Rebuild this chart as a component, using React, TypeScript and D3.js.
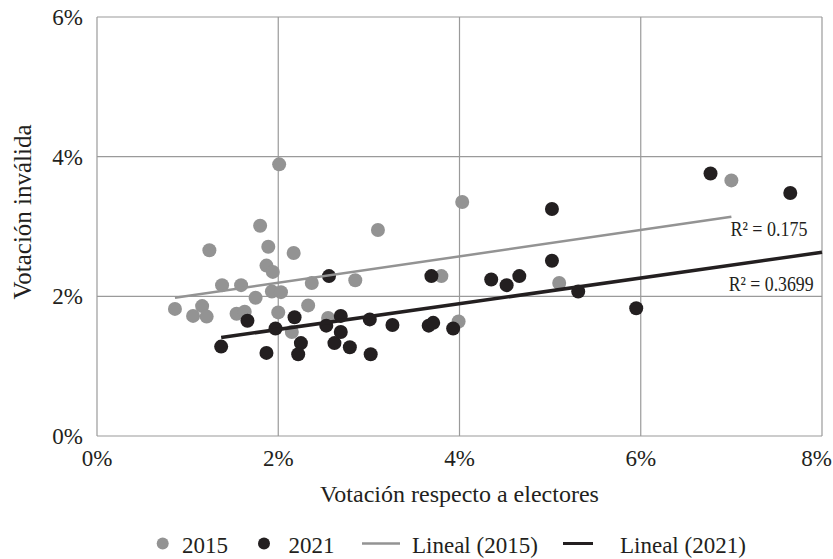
import React, { useEffect, useRef } from 'react';
import * as d3 from 'd3';

// votación respecto a electores (%) / votación inválida (%)
const x2015 = [0.86, 1.06, 1.16, 1.21, 1.24, 1.38, 1.59, 1.54, 1.63, 1.75, 1.80, 1.89, 1.87, 1.94, 1.93, 2.03, 2.00, 2.01, 2.15, 2.17, 2.33, 2.37, 2.55, 2.85, 3.10, 4.03, 3.80, 5.10, 3.99, 7.00];
const y2015 = [1.82, 1.72, 1.86, 1.71, 2.66, 2.16, 2.16, 1.75, 1.78, 1.98, 3.01, 2.71, 2.44, 2.35, 2.07, 2.06, 1.77, 3.89, 1.49, 2.62, 1.87, 2.19, 1.69, 2.23, 2.95, 3.35, 2.29, 2.19, 1.64, 3.66];

const x2021 = [1.37, 1.66, 1.87, 1.97, 2.18, 2.25, 2.22, 2.53, 2.62, 2.69, 2.69, 2.79, 3.01, 3.02, 3.26, 2.56, 3.66, 3.71, 3.93, 3.69, 4.35, 4.52, 4.66, 5.02, 5.02, 5.31, 5.95, 6.77, 7.65];
const y2021 = [1.28, 1.65, 1.19, 1.54, 1.70, 1.33, 1.17, 1.58, 1.33, 1.72, 1.49, 1.27, 1.67, 1.17, 1.59, 2.29, 1.58, 1.62, 1.54, 2.29, 2.24, 2.16, 2.29, 2.51, 3.25, 2.07, 1.83, 3.76, 3.48];

// linear trendlines: [slope, intercept, xStart, xEnd]
const trend2015 = [0.189, 1.816, 0.86, 7.0];
const trend2021 = [0.184, 1.158, 1.37, 8.0];
const r2Labels = ['R\u00b2 = 0.175', 'R\u00b2 = 0.3699'];
const r2Anchor = [[6.99, 2.86], [6.97, 2.08]];

const xTicks = [0, 2, 4, 6, 8];
const yTicks = [0, 2, 4, 6];
const legendLabels = ['2015', '2021', 'Lineal (2015)', 'Lineal (2021)'];

const GREY = '#939393';
const BLACK = '#231f20';
const FONT = 'Liberation Serif';

export default function App() {
  const ref = useRef<SVGSVGElement>(null);

  useEffect(() => {
    const svg = d3.select(ref.current);
    svg.selectAll('*').remove();

    const margin = { top: 17, left: 97, right: 11, bottom: 123 };
    const w = 833 - margin.left - margin.right;
    const h = 559 - margin.top - margin.bottom;

    const xScale = d3.scaleLinear().domain([0, 8]).range([0, w]);
    const yScale = d3.scaleLinear().domain([0, 6]).range([h, 0]);

    const g = svg.append('g').attr('transform', `translate(${margin.left},${margin.top})`);

    // grid
    g.selectAll('.vgrid')
      .data(xTicks)
      .enter()
      .append('line')
      .attr('x1', d => xScale(d))
      .attr('x2', d => xScale(d))
      .attr('y1', 0)
      .attr('y2', h)
      .attr('stroke', '#9a9a9a')
      .attr('stroke-width', 1.2);

    g.selectAll('.hgrid')
      .data(yTicks)
      .enter()
      .append('line')
      .attr('x1', 0)
      .attr('x2', w)
      .attr('y1', d => yScale(d))
      .attr('y2', d => yScale(d))
      .attr('stroke', '#9a9a9a')
      .attr('stroke-width', 1.2);

    // tick labels
    const ticks = g.append('g').attr('font-family', FONT).attr('font-size', 23).attr('fill', BLACK);
    ticks.selectAll('.ylab')
      .data(yTicks)
      .enter()
      .append('text')
      .attr('x', -14)
      .attr('y', d => yScale(d) + 8)
      .attr('text-anchor', 'end')
      .text(d => d + '%');

    ticks.selectAll('.xlab')
      .data(xTicks)
      .enter()
      .append('text')
      .attr('x', d => (d === 8 ? w + margin.right - 1 : xScale(d)))
      .attr('y', h + 30)
      .attr('text-anchor', d => (d === 8 ? 'end' : 'middle'))
      .text(d => d + '%');

    // axis titles
    const titles = svg.append('g').attr('font-family', FONT).attr('fill', BLACK);
    titles.append('text')
      .attr('x', margin.left + w / 2)
      .attr('y', 502)
      .attr('text-anchor', 'middle')
      .attr('font-size', 24)
      .text('Votación respecto a electores');

    titles.append('text')
      .attr('transform', `translate(31,212) rotate(-90)`)
      .attr('text-anchor', 'middle')
      .attr('font-size', 25)
      .text('Votación inválida');

    // points
    g.selectAll('.p15')
      .data(x2015)
      .enter()
      .append('circle')
      .attr('cx', d => xScale(d))
      .attr('cy', (d, i) => yScale(y2015[i]))
      .attr('r', 7)
      .attr('fill', GREY);

    g.selectAll('.p21')
      .data(x2021)
      .enter()
      .append('circle')
      .attr('cx', d => xScale(d))
      .attr('cy', (d, i) => yScale(y2021[i]))
      .attr('r', 7)
      .attr('fill', BLACK);

    // trendlines
    const line = d3.line<[number, number]>().x(d => xScale(d[0])).y(d => yScale(d[1]));
    const trends = [
      { t: trend2015, color: GREY, width: 2.5 },
      { t: trend2021, color: BLACK, width: 3.5 },
    ];
    trends.forEach(({ t, color, width }) => {
      const pts: [number, number][] = [t[2], t[3]].map(x => [x, t[0] * x + t[1]]);
      g.append('path')
        .attr('d', line(pts))
        .attr('stroke', color)
        .attr('stroke-width', width)
        .attr('fill', 'none');
    });

    // R² labels
    const r2 = g.append('g').attr('font-family', FONT).attr('font-size', 21).attr('fill', BLACK);
    r2Labels.forEach((lab, i) => {
      r2.append('text')
        .attr('x', xScale(r2Anchor[i][0]))
        .attr('y', yScale(r2Anchor[i][1]))
        .attr('textLength', i === 0 ? 77 : 85)
        .attr('lengthAdjust', 'spacingAndGlyphs')
        .text(lab);
    });

    // legend
    const ly = 543.5;
    const legend = svg.append('g').attr('font-family', FONT).attr('font-size', 23).attr('fill', BLACK);
    legend.append('circle').attr('cx', 162.7).attr('cy', ly).attr('r', 6).attr('fill', GREY);
    legend.append('text').attr('x', 182).attr('y', 553).text(legendLabels[0]);
    legend.append('circle').attr('cx', 264).attr('cy', ly).attr('r', 6).attr('fill', BLACK);
    legend.append('text').attr('x', 288.5).attr('y', 553).text(legendLabels[1]);
    legend.append('line').attr('x1', 362).attr('x2', 400).attr('y1', ly).attr('y2', ly)
      .attr('stroke', GREY).attr('stroke-width', 2.5);
    legend.append('text').attr('x', 412).attr('y', 553).text(legendLabels[2]);
    legend.append('line').attr('x1', 563).attr('x2', 593).attr('y1', ly).attr('y2', ly)
      .attr('stroke', BLACK).attr('stroke-width', 3);
    legend.append('text').attr('x', 620).attr('y', 553).text(legendLabels[3]);
  }, []);

  return (
    <svg
      ref={ref}
      width={833}
      height={559}
      style={{ position: 'absolute', left: 0, top: 0, background: '#fff' }}
    />
  );
}
